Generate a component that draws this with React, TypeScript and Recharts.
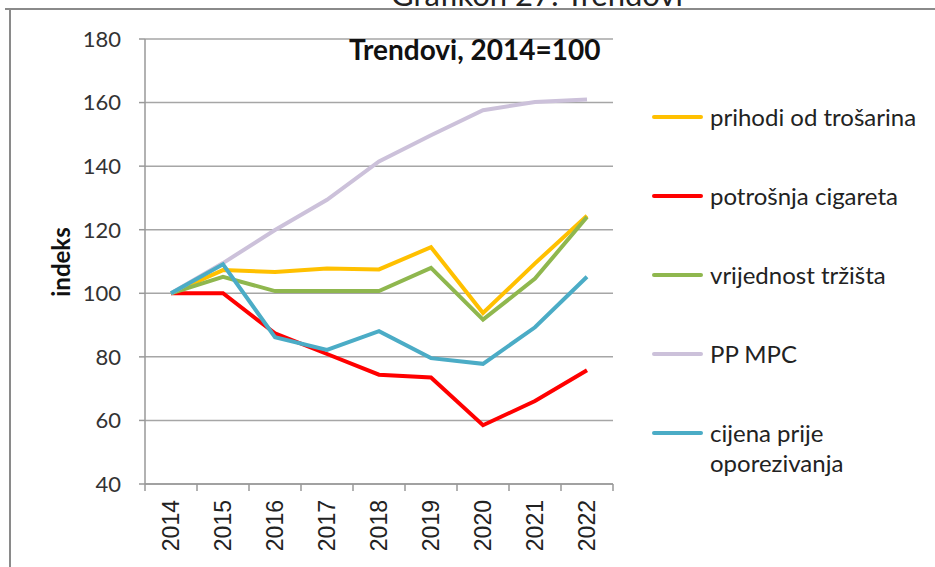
import { LineChart, Line, XAxis, YAxis, CartesianGrid } from "recharts";

const years = ["2014", "2015", "2016", "2017", "2018", "2019", "2020", "2021", "2022"];
const prihodi = [100, 107.3, 106.7, 107.8, 107.5, 114.5, 93.8, 109.4, 124.4];
const potrosnja = [100, 100, 87.4, 80.9, 74.4, 73.5, 58.5, 66.1, 75.8];
const vrijednost = [100, 105.2, 100.7, 100.7, 100.7, 108, 91.7, 104.6, 124];
const ppMpc = [100, 109.5, 119.9, 129.4, 141.5, 149.7, 157.6, 160.2, 161];
const cijena = [100, 109.1, 86.2, 82.2, 88.1, 79.6, 77.8, 89.3, 105.2];
const yTicks = [40, 60, 80, 100, 120, 140, 160, 180];

const SERIES = [
  { key: "prihodi", name: "prihodi od trošarina", color: "#FFC000", values: prihodi },
  { key: "potrosnja", name: "potrošnja cigareta", color: "#FF0000", values: potrosnja },
  { key: "vrijednost", name: "vrijednost tržišta", color: "#8FB74E", values: vrijednost },
  { key: "ppMpc", name: "PP MPC", color: "#CCC1DA", values: ppMpc },
  { key: "cijena", name: "cijena prije oporezivanja", color: "#4BACC6", values: cijena },
];

const data = years.map((year, i) => {
  const row: Record<string, string | number> = { year };
  SERIES.forEach((s) => (row[s.key] = s.values[i]));
  return row;
});

const FONT = "Lato, 'Noto Sans', sans-serif";
const BAND = 52; // width of one category on the x axis

const XTick = (props: any) => {
  const { x, y, payload, index } = props;
  const half = BAND / 2;
  return (
    <g>
      <line x1={x - half} y1={y - 8} x2={x - half} y2={y - 1} stroke="#999" strokeWidth={1.5} />
      {index === years.length - 1 && (
        <line x1={x + half} y1={y - 8} x2={x + half} y2={y - 1} stroke="#999" strokeWidth={1.5} />
      )}
      <text
        x={x + 8}
        y={y + 8}
        transform={`rotate(-90, ${x + 8}, ${y + 8})`}
        textAnchor="end"
        fontFamily="'Liberation Sans', Arial, sans-serif"
        fontSize={23}
        fill="#222"
      >
        {payload.value}
      </text>
    </g>
  );
};

export default function App() {
  return (
    <div style={{ position: "absolute", left: 0, top: 0, width: 935, height: 567, background: "#fff", overflow: "hidden", fontFamily: FONT }}>
      {/* page caption above the frame, mostly cut off at the top edge */}
      <div style={{ position: "absolute", left: 0, width: 1074, top: -25, textAlign: "center", fontSize: 31, color: "#222", lineHeight: "normal" }}>
        Grafikon 27: Trendovi
      </div>
      <div style={{ position: "absolute", left: 5, right: 0, top: 8, height: 2, background: "#8a8a8a" }} />
      <div style={{ position: "absolute", left: 9, top: 8, bottom: 0, width: 2, background: "#8a8a8a" }} />

      <LineChart width={935} height={567} data={data} margin={{ top: 39, right: 322, bottom: 0, left: 85 }}>
        <CartesianGrid vertical={false} stroke="#a6a6a6" strokeWidth={1.5} />
        <XAxis
          dataKey="year"
          scale="band"
          height={83}
          interval={0}
          axisLine={{ stroke: "#999", strokeWidth: 1.5 }}
          tickLine={false}
          tick={<XTick />}
        />
        <YAxis
          domain={[40, 180]}
          ticks={yTicks}
          width={60}
          axisLine={{ stroke: "#999", strokeWidth: 1.5 }}
          tickLine={{ stroke: "#999", strokeWidth: 1.5 }}
          tickSize={6}
          tickMargin={18}
          tick={{ fontSize: 22, fill: "#333", fontFamily: FONT }}
        />
        {SERIES.map((s) => (
          <Line
            key={s.key}
            type="linear"
            dataKey={s.key}
            name={s.name}
            stroke={s.color}
            strokeWidth={4}
            dot={false}
            isAnimationActive={false}
          />
        ))}
      </LineChart>

      <div style={{ position: "absolute", left: 349, top: 32, fontSize: 28, fontWeight: 700, color: "#111", lineHeight: "normal" }}>
        Trendovi, 2014=100
      </div>
      <div
        style={{
          position: "absolute",
          left: 60,
          top: 262,
          transform: "translate(-50%, -50%) rotate(-90deg)",
          fontSize: 24,
          fontWeight: 700,
          color: "#111",
        }}
      >
        indeks
      </div>

      {SERIES.map((s, i) => (
        <div key={s.key} style={{ position: "absolute", left: 652, top: 102 + i * 79, display: "flex", alignItems: "flex-start" }}>
          <div style={{ width: 51, height: 4, background: s.color, marginTop: 13, borderRadius: 2 }} />
          <div style={{ marginLeft: 7, width: 215, fontSize: 24, lineHeight: "30px", color: "#222" }}>{s.name}</div>
        </div>
      ))}
    </div>
  );
}
